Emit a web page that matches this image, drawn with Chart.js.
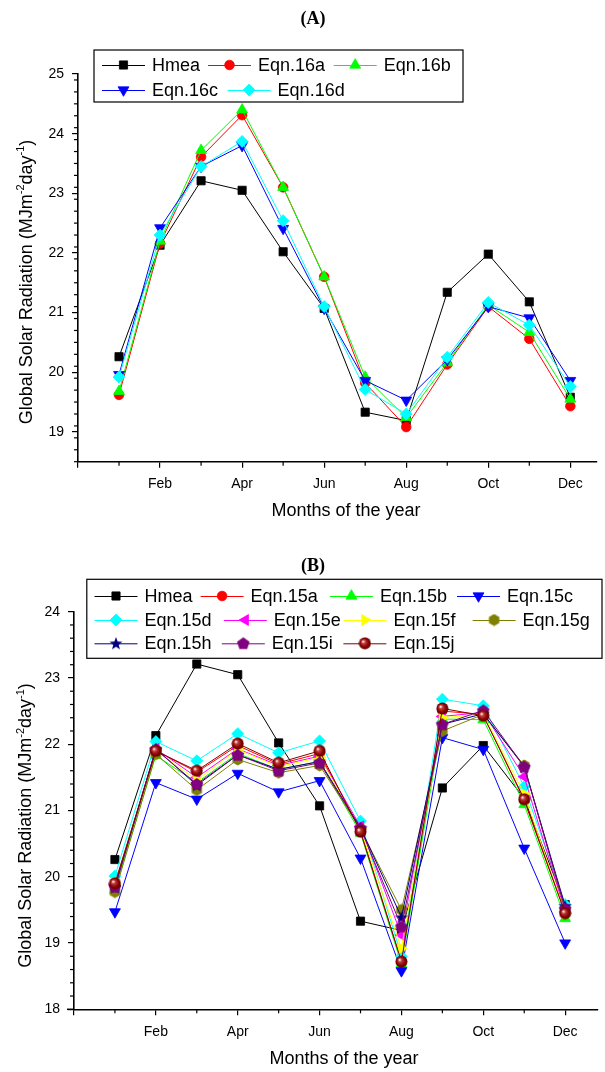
<!DOCTYPE html>
<html><head><meta charset="utf-8">
<script src="https://cdn.jsdelivr.net/npm/chart.js@4.4.1/dist/chart.umd.min.js"></script>
<style>html,body{margin:0;padding:0;background:#fff}canvas{display:block}</style>
</head><body>
<canvas id="cA" width="605" height="530"></canvas>
<canvas id="cB" width="605" height="542"></canvas>
<script>
// ---------------- DATA ----------------
const months = [1,2,3,4,5,6,7,8,9,10,11,12];
const xTickValues = [0,2,4,6,8,10,12];
const xTickLabels = ['', 'Feb', 'Apr', 'Jun', 'Aug', 'Oct', 'Dec'];
const xMinorValues = [1,3,5,7,9,11];
const yTicksA = [19,20,21,22,23,24,25];
const yTicksB = [18,19,20,21,22,23,24];

const hmea    = [20.26,22.13,23.21,23.05,22.02,21.07,19.33,19.19,21.34,21.98,21.18,19.58];
// Panel A
const eqn16a  = [19.62,22.16,23.61,24.31,23.10,21.60,19.82,19.08,20.13,21.10,20.56,19.43];
const eqn16b  = [19.68,22.20,23.72,24.40,23.10,21.60,19.92,19.24,20.16,21.13,20.67,19.55];
const eqn16c  = [19.96,22.42,23.45,23.80,22.41,21.07,19.86,19.53,20.21,21.10,20.91,19.86];
const eqn16d  = [19.92,22.30,23.45,23.87,22.54,21.10,19.71,19.30,20.25,21.17,20.79,19.76];
// Panel B
const eqn15a  = [19.88,21.90,21.58,21.98,21.70,21.86,20.70,18.72,22.50,22.45,21.15,19.45];
const eqn15b  = [19.80,21.83,21.42,21.86,21.62,21.74,20.66,18.68,22.38,22.37,21.09,19.37];
const eqn15c  = [19.47,21.42,21.17,21.56,21.28,21.45,20.28,18.58,22.10,21.92,20.43,19.00];
const eqn15d  = [20.01,22.04,21.75,22.16,21.87,22.05,20.84,18.80,22.68,22.58,21.36,19.58];
const eqn15e  = [19.88,21.93,21.50,21.93,21.68,21.82,20.76,19.12,22.42,22.48,21.51,19.47];
const eqn15f  = [19.90,21.90,21.46,21.92,21.66,21.80,20.72,18.92,22.40,22.45,21.25,19.45];
const eqn15g  = [19.77,21.85,21.31,21.77,21.57,21.68,20.72,19.50,22.20,22.45,21.68,19.50];
const eqn15h  = [19.84,21.93,21.38,21.84,21.62,21.74,20.74,19.39,22.30,22.46,21.66,19.56];
const eqn15i  = [19.85,21.92,21.40,21.84,21.60,21.72,20.73,19.25,22.30,22.51,21.66,19.52];
const eqn15j  = [19.90,21.90,21.60,22.01,21.72,21.90,20.68,18.72,22.54,22.43,21.17,19.45];

const namesA = ['Hmea','Eqn.16a','Eqn.16b','Eqn.16c','Eqn.16d'];
const seriesA = [hmea, eqn16a, eqn16b, eqn16c, eqn16d];
const namesB = ['Hmea','Eqn.15a','Eqn.15b','Eqn.15c','Eqn.15d','Eqn.15e','Eqn.15f','Eqn.15g','Eqn.15h','Eqn.15i','Eqn.15j'];
const seriesB = [hmea, eqn15a, eqn15b, eqn15c, eqn15d, eqn15e, eqn15f, eqn15g, eqn15h, eqn15i, eqn15j];

// ---------------- STYLES ----------------
const FONT = '"Liberation Sans", Arial, Helvetica, sans-serif';
function mkCanvas(size, draw) {
  const c = document.createElement('canvas'); c.width = size; c.height = size;
  draw(c.getContext('2d'), size); return c;
}
function polyPts(ctx, n, cx, cy, r, startAng) {
  ctx.beginPath();
  for (let k = 0; k < n; k++) {
    const a = startAng + k * 2 * Math.PI / n;
    const px = cx + r * Math.cos(a), py = cy + r * Math.sin(a);
    k ? ctx.lineTo(px, py) : ctx.moveTo(px, py);
  }
  ctx.closePath();
}
const hexImg = mkCanvas(13, (ctx, s) => { ctx.fillStyle = '#808000'; polyPts(ctx, 6, s/2, s/2, 6, -Math.PI/2); ctx.fill(); });
const pentImg = mkCanvas(14, (ctx, s) => { ctx.fillStyle = '#800080'; polyPts(ctx, 5, s/2, s/2 + 0.5, 6.6, -Math.PI/2); ctx.fill(); });
const starImg = mkCanvas(14, (ctx, s) => {
  ctx.fillStyle = '#000080'; ctx.beginPath();
  for (let k = 0; k < 10; k++) {
    const r = k % 2 ? 2.8 : 6.8, a = -Math.PI/2 + k * Math.PI / 5;
    const px = s/2 + r * Math.cos(a), py = s/2 + 0.6 + r * Math.sin(a);
    k ? ctx.lineTo(px, py) : ctx.moveTo(px, py);
  }
  ctx.closePath(); ctx.fill();
});
const sphereImg = mkCanvas(13, (ctx, s) => {
  const g = ctx.createRadialGradient(s/2 - 2, s/2 - 2, 0.3, s/2, s/2, 6);
  g.addColorStop(0, '#ffffff'); g.addColorStop(0.28, '#c03a3a'); g.addColorStop(0.7, '#8a0000'); g.addColorStop(1, '#5a0000');
  ctx.fillStyle = g; ctx.beginPath(); ctx.arc(s/2, s/2, 6, 0, 2*Math.PI); ctx.fill();
});

const STY = {
  'Hmea':   {color:'#000000', ps:'rect', r:5.8, rot:0},
  'red':    {color:'#ff0000', ps:'circle', r:4.8, rot:0},
  'green':  {color:'#00ff00', ps:'triangle', r:6.3, rot:0},
  'blue':   {color:'#0000ff', ps:'triangle', r:6.3, rot:180},
  'cyan':   {color:'#00ffff', ps:'rectRot', r:6, rot:0},
  'magenta':{color:'#ff00ff', ps:'triangle', r:6.3, rot:270},
  'yellow': {color:'#ffff00', ps:'triangle', r:6.3, rot:90},
  'olive':  {color:'#808000', ps:hexImg, r:6, rot:0},
  'navy':   {color:'#000080', ps:starImg, r:6, rot:0},
  'purple': {color:'#800080', ps:pentImg, r:6, rot:0},
  'maroon': {color:'#800000', ps:sphereImg, r:6, rot:0}
};
const stylesA = [STY.Hmea, STY.red, STY.green, STY.blue, STY.cyan];
const stylesB = [STY.Hmea, STY.red, STY.green, STY.blue, STY.cyan, STY.magenta, STY.yellow, STY.olive, STY.navy, STY.purple, STY.maroon];

// ---------------- DECOR PLUGIN ----------------
function drawMarker(ctx, ds, x, y) {
  ctx.save();
  ctx.fillStyle = ds.backgroundColor; ctx.strokeStyle = ds.pointBorderColor; ctx.lineWidth = ds.pointBorderWidth;
  if (Chart.helpers && Chart.helpers.drawPoint) {
    Chart.helpers.drawPoint(ctx, {pointStyle: ds.pointStyle, rotation: ds.pointRotation, radius: ds.pointRadius, borderWidth: ds.pointBorderWidth}, x, y);
  } else {
    ctx.beginPath(); ctx.arc(x, y, ds.pointRadius, 0, 2*Math.PI); ctx.fill();
  }
  ctx.restore();
}
function drawYTitle(ctx, cx, cy) {
  ctx.save(); ctx.translate(cx, cy); ctx.rotate(-Math.PI/2);
  const parts = [['Global Solar Radiation (MJm',0],['-2',1],['day',0],['-1',1],[')',0]];
  const main = '18px ' + FONT, sup = '11px ' + FONT;
  let total = 0;
  parts.forEach(p => { ctx.font = p[1] ? sup : main; total += ctx.measureText(p[0]).width; });
  let x = -total/2;
  ctx.textBaseline = 'middle'; ctx.textAlign = 'left'; ctx.fillStyle = '#000';
  parts.forEach(p => { ctx.font = p[1] ? sup : main; ctx.fillText(p[0], x, p[1] ? -6 : 0); x += ctx.measureText(p[0]).width; });
  ctx.restore();
}
const decorPlugin = {
  id: 'decor',
  afterDraw(chart, args, o) {
    const ctx = chart.ctx, xs = chart.scales.x, ys = chart.scales.y;
    ctx.save();
    // minor ticks
    ctx.strokeStyle = '#000'; ctx.lineWidth = 1.2;
    xMinorValues.forEach(v => {
      const px = xs.getPixelForValue(v);
      ctx.beginPath(); ctx.moveTo(px, ys.bottom); ctx.lineTo(px, ys.bottom + 4); ctx.stroke();
    });
    for (let v = o.yMin; v <= o.yMax + 1e-6; v += 0.2) {
      if (Math.abs(v - Math.round(v)) < 1e-6) continue;
      const py = ys.getPixelForValue(v);
      ctx.beginPath(); ctx.moveTo(xs.left - 4, py); ctx.lineTo(xs.left, py); ctx.stroke();
    }
    if (o.xExt) { ctx.lineWidth = 1.5; ctx.beginPath(); ctx.moveTo(xs.left - o.xExt, ys.bottom); ctx.lineTo(xs.left, ys.bottom); ctx.stroke(); }
    // title
    ctx.fillStyle = '#000'; ctx.textAlign = 'center'; ctx.textBaseline = 'middle';
    ctx.font = 'bold 18px "Liberation Serif", "Times New Roman", serif';
    ctx.fillText(o.title, o.titlePos[0], o.titlePos[1]);
    // axis titles
    ctx.font = '18px ' + FONT;
    ctx.fillText('Months of the year', o.xTitlePos[0], o.xTitlePos[1]);
    drawYTitle(ctx, o.yTitlePos[0], o.yTitlePos[1]);
    // legend
    const b = o.legendBox;
    ctx.fillStyle = '#fff'; ctx.fillRect(b[0], b[1], b[2], b[3]);
    ctx.strokeStyle = '#000'; ctx.lineWidth = 1.2; ctx.strokeRect(b[0], b[1], b[2], b[3]);
    o.legendItems.forEach((it, i) => {
      const ds = chart.data.datasets[i];
      const x0 = it[0], y = it[1];
      ctx.strokeStyle = ds.borderColor; ctx.lineWidth = 1;
      ctx.beginPath(); ctx.moveTo(x0, y + 0.5); ctx.lineTo(x0 + 43, y + 0.5); ctx.stroke();
      drawMarker(ctx, ds, x0 + 21.5, y);
      ctx.fillStyle = '#000'; ctx.font = '18px ' + FONT; ctx.textAlign = 'left'; ctx.textBaseline = 'middle';
      ctx.fillText(ds.label, x0 + 50, y + 1);
    });
    ctx.restore();
  }
};

// ---------------- CHART BUILDER ----------------
function makeChart(id, names, series, styles, cfg) {
  const n = names.length;
  return new Chart(document.getElementById(id), {
    type: 'line',
    data: {
      datasets: names.map((nm, i) => ({
        label: nm,
        data: months.map((m, k) => ({x: m, y: series[i][k]})),
        borderColor: styles[i].color, backgroundColor: styles[i].color,
        pointBorderColor: styles[i].color, pointBackgroundColor: styles[i].color,
        pointStyle: styles[i].ps, pointRadius: styles[i].r, pointRotation: styles[i].rot,
        pointBorderWidth: 0.8, borderWidth: 1, tension: 0, fill: false, order: n - i, clip: false
      }))
    },
    options: {
      responsive: false, animation: false, devicePixelRatio: 1, events: [],
      layout: {padding: cfg.padding},
      plugins: {legend: {display: false}, tooltip: {enabled: false}, decor: cfg.decor},
      scales: {
        x: {
          type: 'linear', min: 0, max: cfg.xMax,
          afterFit(s) { s.height = cfg.xH; },
          afterBuildTicks(s) { s.ticks = xTickValues.map(v => ({value: v})); },
          ticks: {callback: (v) => { const j = xTickValues.indexOf(v); return j >= 0 ? xTickLabels[j] : ''; },
                  font: {family: FONT, size: 14}, color: '#000', padding: cfg.xPad, maxRotation: 0, autoSkip: false},
          grid: {display: true, drawOnChartArea: false, drawTicks: true, tickLength: 6, color: '#000', lineWidth: 1.2},
          border: {display: true, color: '#000', width: 1.6}
        },
        y: {
          type: 'linear', min: cfg.yMin, max: cfg.yMax,
          afterFit(s) { s.width = cfg.yW; },
          afterBuildTicks(s) { s.ticks = cfg.yTicks.map(v => ({value: v})); },
          ticks: {callback: (v) => String(v), font: {family: FONT, size: 14}, color: '#000', padding: cfg.yPad, autoSkip: false},
          grid: {display: true, drawOnChartArea: false, drawTicks: true, tickLength: 6, color: '#000', lineWidth: 1.2},
          border: {display: true, color: '#000', width: 1.6}
        }
      }
    },
    plugins: [decorPlugin]
  });
}

makeChart('cA', namesA, seriesA, stylesA, {
  padding: {top: 74, right: 8, left: 0, bottom: 0},
  xMax: 12.65, xH: 68.3, xPad: 8, yMin: 18.5, yMax: 25, yW: 78, yPad: 8, yTicks: yTicksA,
  decor: {
    yMin: 18.5, yMax: 25, title: '(A)', titlePos: [313, 19], xTitlePos: [346, 511], yTitlePos: [27, 282],
    legendBox: [94, 50, 369, 52],
    legendItems: [[102, 65], [208, 65], [333.7, 65], [102, 90], [227.6, 90]]
  }
});
makeChart('cB', namesB, seriesB, stylesB, {
  padding: {top: 81.7, right: 0, left: 0, bottom: 0},
  xMax: 12.8, xH: 62.7, xPad: 8, yMin: 18, yMax: 24, yW: 74, yPad: 8, yTicks: yTicksB,
  decor: {
    yMin: 18, yMax: 24, xExt: 7, title: '(B)', titlePos: [313, 36.7], xTitlePos: [344, 529], yTitlePos: [26.5, 295.5],
    legendBox: [86.8, 49.3, 515.2, 79],
    legendItems: [[94.5, 66], [200.6, 66], [329.9, 66], [457, 66],
                  [94.5, 90], [223.8, 90], [343.4, 90], [472.6, 90],
                  [94.5, 113.3], [221.8, 113.3], [343.4, 113.3]]
  }
});
</script>
</body></html>
